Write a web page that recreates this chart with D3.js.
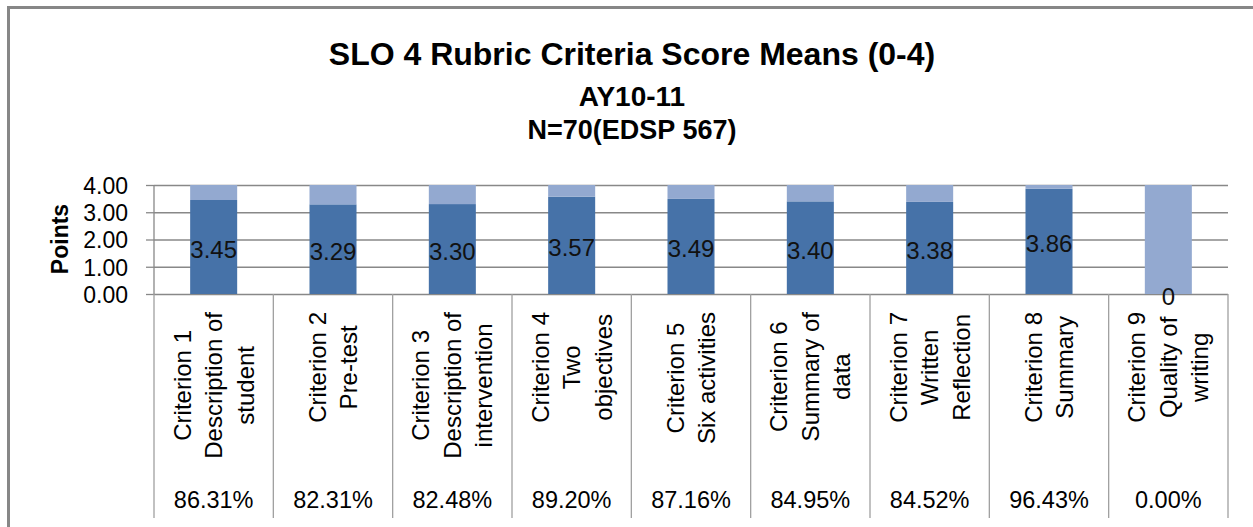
<!DOCTYPE html>
<html>
<head>
<meta charset="utf-8">
<script src="https://cdn.jsdelivr.net/npm/d3@7/dist/d3.min.js"></script>
<style>
  html, body { margin: 0; padding: 0; background: #fff; }
  svg { display: block; font-family: "Liberation Sans", Arial, sans-serif; }
</style>
</head>
<body>
<svg id="chart" width="1253" height="527"></svg>
<script>
// ---- data ----
const categories = ["Criterion 1", "Criterion 2", "Criterion 3", "Criterion 4", "Criterion 5",
                    "Criterion 6", "Criterion 7", "Criterion 8", "Criterion 9"];
const categoryLines = [
  ["Criterion 1", "Description of", "student"],
  ["Criterion 2", "Pre-test"],
  ["Criterion 3", "Description of", "intervention"],
  ["Criterion 4", "Two", "objectives"],
  ["Criterion 5", "Six activities"],
  ["Criterion 6", "Summary of", "data"],
  ["Criterion 7", "Written", "Reflection"],
  ["Criterion 8", "Summary"],
  ["Criterion 9", "Quality of", "writing"]
];
const means      = [3.45, 3.29, 3.30, 3.57, 3.49, 3.40, 3.38, 3.86, 0];
const remainders = [0.55, 0.71, 0.70, 0.43, 0.51, 0.60, 0.62, 0.14, 4];
const meanLabels = ["3.45", "3.29", "3.30", "3.57", "3.49", "3.40", "3.38", "3.86", "0"];
const percents   = ["86.31%", "82.31%", "82.48%", "89.20%", "87.16%", "84.95%", "84.52%", "96.43%", "0.00%"];
const yTicks     = [0, 1, 2, 3, 4];
const titleLines = ["SLO 4 Rubric Criteria Score Means (0-4)", "AY10-11", "N=70(EDSP 567)"];
const yTitle = "Points";

(function draw() {
  const svg = d3.select("#chart");
  const pLeft = 154, pRight = 1228, pTop = 185, pBase = 294, tableBottom = 518;
  const darkColor = "#4672A8", lightColor = "#93A9D0", gridColor = "#888888", tableLine = "#a0a0a0";

  // outer border
  svg.append("rect").attr("x", 8.5).attr("y", 7.5).attr("width", 1400).attr("height", 700)
    .attr("fill", "#fff").attr("stroke", "#878787").attr("stroke-width", 3);

  // titles
  const titleCfg = [{y: 65, size: 32}, {y: 106, size: 28}, {y: 139, size: 27}];
  titleLines.forEach((t, i) => {
    svg.append("text").attr("x", 632).attr("y", titleCfg[i].y)
      .attr("text-anchor", "middle").attr("font-weight", "bold")
      .attr("font-size", titleCfg[i].size).attr("fill", "#000").text(t);
  });

  // scales
  const x = d3.scaleBand().domain(categories).range([pLeft, pRight]).padding(0);
  const y = d3.scaleLinear().domain([0, 4]).range([pBase, pTop]);
  const barW = x.bandwidth() * 0.394;

  // gridlines
  const grid = svg.append("g").attr("transform", `translate(${pLeft},0)`)
    .call(d3.axisLeft(y).tickValues(yTicks).tickSize(-(pRight - pLeft)).tickFormat(""));
  grid.select(".domain").remove();
  grid.selectAll("line").attr("stroke", gridColor).attr("stroke-width", 1.3);

  // y axis with ticks + labels
  const yAxis = svg.append("g").attr("transform", `translate(${pLeft},0)`)
    .call(d3.axisLeft(y).tickValues(yTicks).tickSize(8).tickPadding(18).tickFormat(d3.format(".2f")));
  yAxis.select(".domain").remove();
  yAxis.selectAll("line").attr("stroke", gridColor).attr("stroke-width", 1.3);
  yAxis.selectAll("text").attr("font-size", 23).attr("fill", "#000")
    .attr("font-family", "Liberation Sans, Arial, sans-serif").attr("dy", "0.36em");

  // y title
  svg.append("text").attr("transform", "translate(68,239) rotate(-90)")
    .attr("text-anchor", "middle").attr("font-weight", "bold").attr("font-size", 23)
    .attr("fill", "#000").text(yTitle);

  // stacked bars
  const rows = categories.map((c, i) => ({cat: c, mean: means[i], rest: remainders[i]}));
  const stack = d3.stack().keys(["mean", "rest"])(rows);
  const colors = {mean: darkColor, rest: lightColor};
  stack.forEach(layer => {
    svg.append("g").selectAll("rect").data(layer).join("rect")
      .attr("x", d => x(d.data.cat) + (x.bandwidth() - barW) / 2)
      .attr("width", barW)
      .attr("y", d => y(d[1]))
      .attr("height", d => y(d[0]) - y(d[1]))
      .attr("fill", colors[layer.key]);
  });

  // vertical axis line and table lines
  svg.append("line").attr("x1", pLeft).attr("x2", pLeft).attr("y1", pTop).attr("y2", pBase)
    .attr("stroke", gridColor).attr("stroke-width", 1.3);
  const bounds = categories.map(c => x(c)).concat([pRight]);
  svg.append("g").selectAll("line").data(bounds).join("line")
    .attr("x1", d => d).attr("x2", d => d).attr("y1", pBase).attr("y2", tableBottom)
    .attr("stroke", tableLine).attr("stroke-width", 1.3);

  // bar value labels
  svg.append("g").selectAll("text").data(rows).join("text")
    .attr("x", d => x(d.cat) + x.bandwidth() / 2)
    .attr("y", d => (y(0) + y(d.mean)) / 2)
    .attr("dy", "0.46em")
    .attr("text-anchor", "middle").attr("font-size", 24).attr("fill", "#111")
    .text((d, i) => meanLabels[i]);

  // rotated category labels
  const lineGap = 31.5, labelSize = 24;
  categoryLines.forEach((lines, i) => {
    const cx = x(categories[i]) + x.bandwidth() / 2;
    const g = svg.append("g");
    const texts = lines.map(l => g.append("text").attr("font-size", labelSize)
      .attr("text-anchor", "middle").attr("fill", "#000").text(l));
    const maxLen = d3.max(texts, t => t.node().getComputedTextLength());
    const cy = 312 + maxLen / 2;
    const n = lines.length;
    texts.forEach((t, k) => {
      const lx = cx + (k - (n - 1) / 2) * lineGap + labelSize * 0.36;
      t.attr("transform", `translate(${lx},${cy}) rotate(-90)`);
    });
  });

  // percent row
  svg.append("g").selectAll("text").data(percents).join("text")
    .attr("x", (d, i) => x(categories[i]) + x.bandwidth() / 2)
    .attr("y", 508)
    .attr("text-anchor", "middle").attr("font-size", 23.5).attr("fill", "#000")
    .text(d => d);
})();
</script>
</body>
</html>
